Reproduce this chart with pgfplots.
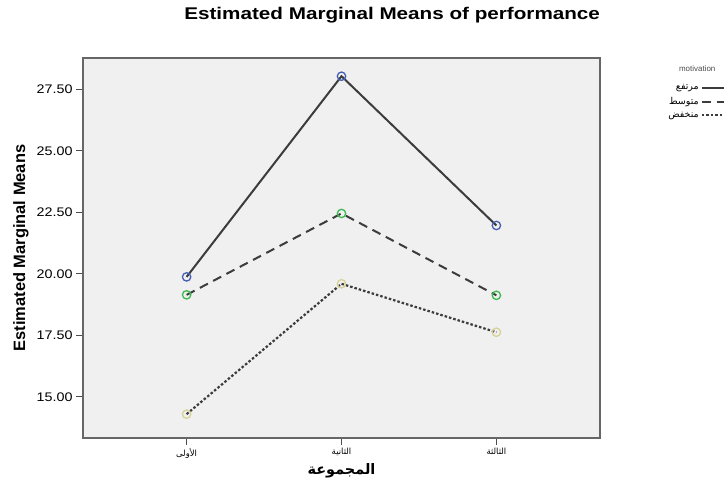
\documentclass[border=0pt]{standalone}
\usepackage{pgfplots}
\pgfplotsset{compat=1.18}
\usepackage{fontspec}
\setmainfont{Liberation Sans}
\newfontfamily\arabicfont[Script=Arabic]{DejaVu Sans}
\newfontfamily\titlefont[FakeStretch=1.22]{Liberation Sans}
\newfontfamily\tickfont[FakeStretch=1.15]{Liberation Sans}
\TeXXeTstate=1
\definecolor{bgc}{RGB}{240,240,240}
\definecolor{linec}{RGB}{60,60,60}
\definecolor{mblue}{RGB}{70,95,180}
\definecolor{mgreen}{RGB}{60,185,80}
\definecolor{myellow}{RGB}{215,210,150}
\begin{document}
\begin{tikzpicture}
\path[use as bounding box] (0bp,0bp) rectangle (728bp,489bp);
\begin{axis}[
  at={(83bp,51bp)}, anchor=south west,
  width=517bp, height=380bp, scale only axis,
  clip=false,
  xmin=0.331, xmax=3.669, ymin=13.33, ymax=28.78,
  axis background/.style={fill=bgc},
  axis line style={draw=black!60, line width=1.2bp},
  tick align=outside,
  major tick length=7bp,
  tick style={draw=black!70, line width=1bp},
  xtick pos=bottom, ytick pos=left,
  xtick={1,2,3},
  xticklabels={{\arabicfont\beginR الأولى\endR},{\arabicfont\beginR الثانية\endR},{\arabicfont\beginR الثالثة\endR}},
  xticklabel style={font=\fontsize{8.5}{10}\selectfont},
  ytick={15,17.5,20,22.5,25,27.5},
  yticklabel style={font=\tickfont\fontsize{12.5}{14}\selectfont, /pgf/number format/.cd, fixed, fixed zerofill, precision=2, assume math mode=true},
  ylabel={\textbf{Estimated Marginal Means}},
  ylabel style={at={(axis description cs:-0.12,0.5)}, anchor=center, font=\fontsize{16.5}{18}\selectfont},
  xlabel={\arabicfont\bfseries\beginR المجموعة\endR},
  xlabel style={at={(axis description cs:0.5,-0.087)}, anchor=center, font=\fontsize{14.5}{17}\selectfont},
  legend style={draw=none, fill=none, at={(1.242,0.936)}, anchor=north east, font=\fontsize{9.5}{10.5}\selectfont, row sep=2bp, inner sep=0pt},
  legend plot pos=right, legend cell align=right,
  legend image code/.code={\draw[#1] (0bp,0bp) -- (22bp,0bp);},
]
\addplot[linec, line width=2bp] coordinates {(1,19.88) (2,28.04) (3,21.97)};
\addlegendentry{\arabicfont\beginR مرتفع\endR}
\addplot[linec, line width=2bp, dash pattern=on 9bp off 6bp] coordinates {(1,19.15) (2,22.46) (3,19.13)};
\addlegendentry{\arabicfont\beginR متوسط\endR}
\addplot[linec, line width=2.2bp, dash pattern=on 2.5bp off 2bp] coordinates {(1,14.3) (2,19.6) (3,17.63)};
\addlegendentry{\arabicfont\beginR منخفض\endR}
\addplot[only marks, mark=o, mark size=4.2bp, mark options={draw=mblue, line width=1.3bp}, forget plot] coordinates {(1,19.88) (2,28.04) (3,21.97)};
\addplot[only marks, mark=o, mark size=4.2bp, mark options={draw=mgreen, line width=1.3bp}, forget plot] coordinates {(1,19.15) (2,22.46) (3,19.13)};
\addplot[only marks, mark=o, mark size=4.2bp, mark options={draw=myellow, line width=1.3bp}, forget plot] coordinates {(1,14.3) (2,19.6) (3,17.63)};
\node[font=\fontsize{8}{9}\selectfont, text=black!70] at (axis description cs:1.188,0.971) {motivation};
\node[font=\titlefont\bfseries\fontsize{17}{19}\selectfont] at (axis description cs:0.598,1.112) {Estimated Marginal Means of performance};
\end{axis}
\end{tikzpicture}
\end{document}
